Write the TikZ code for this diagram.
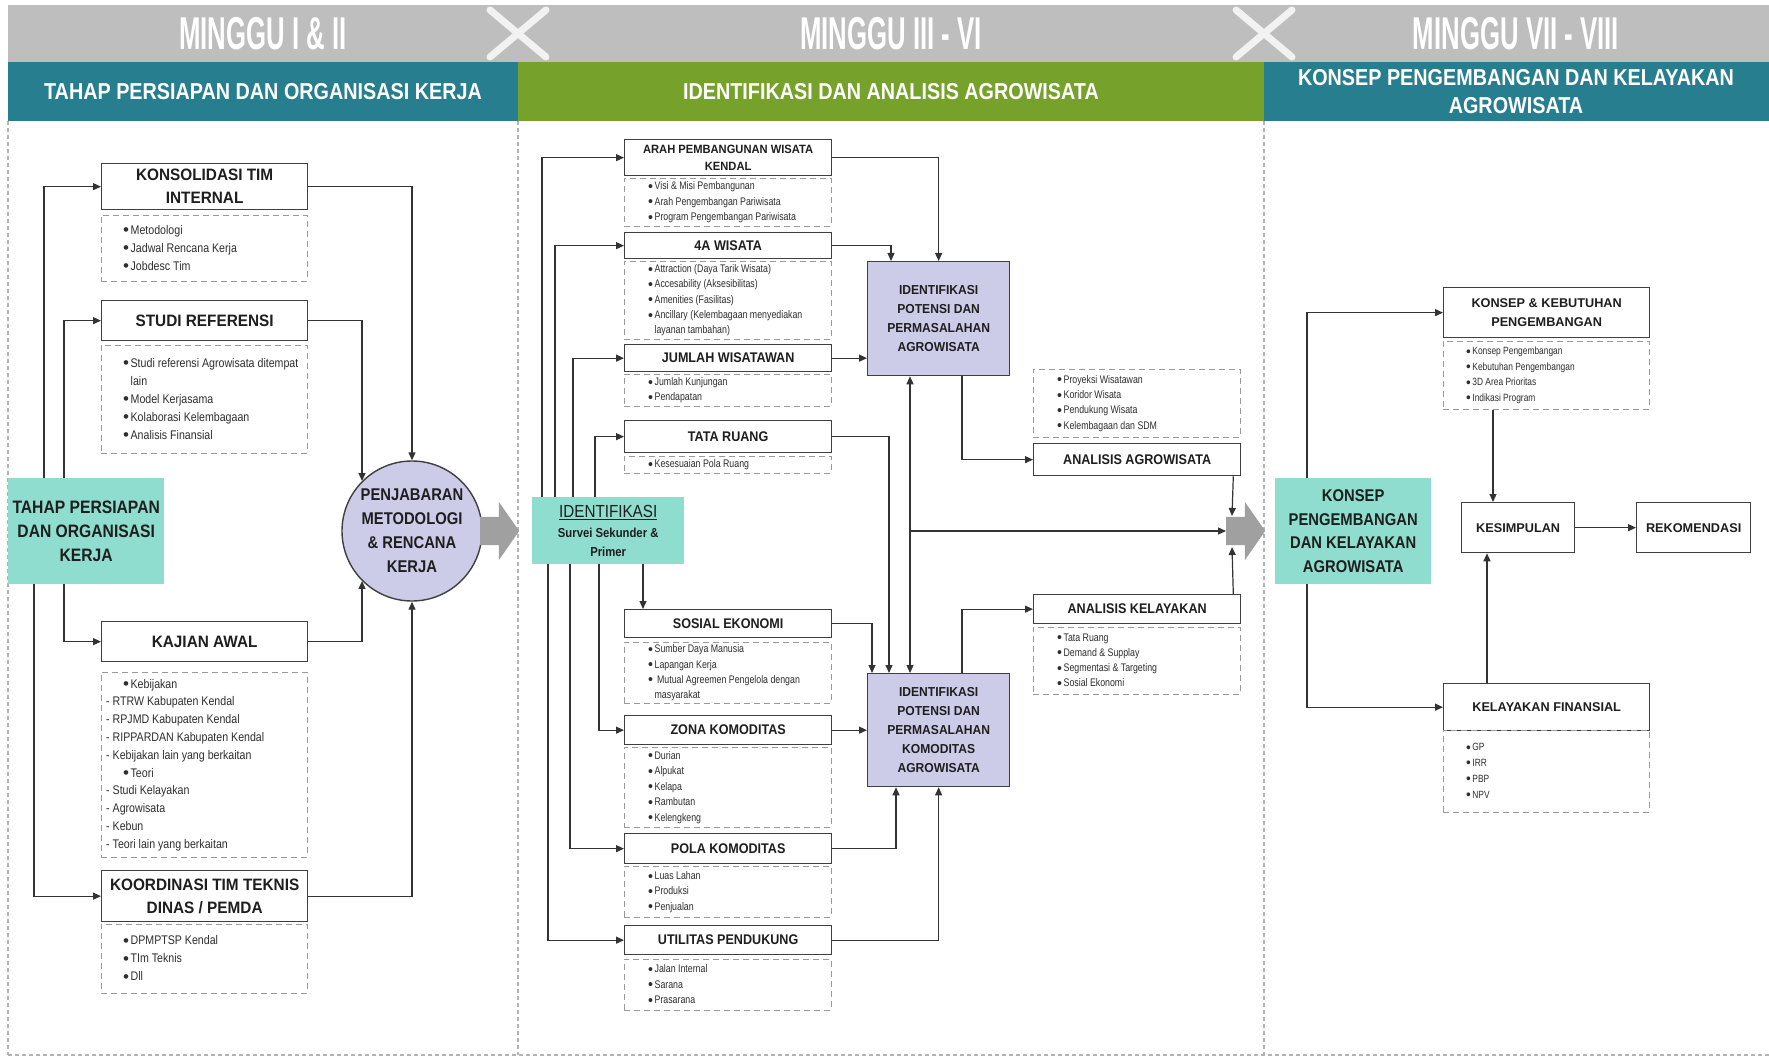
\documentclass[tikz,border=0pt]{standalone}
\usepackage{fontspec}
\setmainfont{Liberation Sans}
\newfontfamily\fHdr[FakeStretch=0.56]{Liberation Sans}
\newfontfamily\fBand[FakeStretch=0.86]{Liberation Sans}
\newfontfamily\fTitA[FakeStretch=0.93]{Liberation Sans}
\newfontfamily\fTitB[FakeStretch=0.9]{Liberation Sans}
\newfontfamily\fTeal[FakeStretch=0.87]{Liberation Sans}
\newfontfamily\fListL[FakeStretch=0.85]{Liberation Sans}
\newfontfamily\fListS[FakeStretch=0.8]{Liberation Sans}
\usetikzlibrary{arrows.meta,shapes.arrows}
\definecolor{hdrgray}{HTML}{BEBEBE}
\definecolor{bandteal}{HTML}{277E8E}
\definecolor{bandgreen}{HTML}{76A12A}
\definecolor{boxteal}{HTML}{8EDDCE}
\definecolor{lav}{HTML}{CCCCE9}
\definecolor{boxline}{HTML}{3F3F3F}
\definecolor{lgray}{HTML}{9A9A9A}
\definecolor{conn}{HTML}{333333}
\definecolor{sepgray}{HTML}{B3B3B3}
\definecolor{garrow}{HTML}{A0A0A0}
\definecolor{xmk}{HTML}{F2F2F2}
\definecolor{txt}{HTML}{1E1E1E}
\definecolor{ltxt}{HTML}{2E2E2E}
\newcommand\bul{\raisebox{-0.14em}{\scalebox{1.6}[1.35]{•}}\hspace{1.5pt}}
\newcommand\ftA{\fTitA\bfseries\fontsize{16.5}{23}\selectfont}
\newcommand\ftM{\fTitB\bfseries\fontsize{14}{17}\selectfont}
\newcommand\ftArah{\fTitA\bfseries\fontsize{12}{17}\selectfont}
\newcommand\ftAgro{\fTitA\bfseries\fontsize{13}{19}\selectfont}
\newcommand\ftR{\bfseries\fontsize{12.7}{19}\selectfont}
\newcommand\ftLL{\fListL\fontsize{12.5}{18}\selectfont}
\newcommand\ftLK{\fListL\fontsize{12.5}{17.8}\selectfont}
\newcommand\ftLM{\fListS\fontsize{11}{15.3}\selectfont}
\newcommand\ftLR{\fListS\fontsize{10.5}{15.5}\selectfont}
\newcommand\bx[8]{\node[#1, minimum width={#5-#3}, minimum height={#6-#4}, font={#7}] (#2) at (#3,#4) {#8};}
\newcommand\lst[8]{\node[lbox, minimum width={#4-#2}, minimum height={#5-#3}] (#1) at (#2,#3) {};
  \node[anchor=west, align=left, inner sep=0pt, text=ltxt, font={#7}] (#1t) at ([xshift=#6pt]#1.west) {#8};}
\begin{document}
\begin{tikzpicture}[x=1pt,y=-1pt,
  tbox/.style={draw=boxline, line width=1.3pt, fill=white, inner sep=0pt, anchor=north west, align=center, text=txt},
  lbox/.style={draw=lgray, line width=0.9pt, dash pattern=on 6pt off 4pt, inner sep=0pt, anchor=north west},
  tealbox/.style={fill=boxteal, draw=none, inner sep=0pt, anchor=north west, align=center, text=txt},
  lavbox/.style={fill=lav, draw=boxline, line width=1.3pt, inner sep=0pt, anchor=north west, align=center, text=txt},
  arr/.style={draw=conn, line width=1.2pt, -{Triangle[length=8pt,width=7pt]}},
  arrb/.style={draw=conn, line width=1.2pt, {Triangle[length=8pt,width=7pt]}-{Triangle[length=8pt,width=7pt]}},
  sep/.style={draw=sepgray, line width=2.2pt, dash pattern=on 4pt off 3pt},
  garr/.style={single arrow, fill=garrow, draw=none, minimum height=39pt, single arrow head extend=15pt, single arrow tip angle=110, inner xsep=0pt, inner ysep=14pt, anchor=tail},
  xmark/.style={draw=xmk, line width=7pt, line cap=round},
  hdr/.style={text=white, font=\fHdr\bfseries\fontsize{46}{46}\selectfont, inner sep=0pt},
  band/.style={text=white, font=\fBand\bfseries\fontsize{23}{28}\selectfont, inner sep=0pt, align=center}
]
\useasboundingbox (0,0) rectangle (1769,1056);
\fill[white] (0,0) rectangle (1769,1056);
% header
\fill[hdrgray] (8,5) rectangle (1769,62);
\fill[bandteal] (8,62) rectangle (518,121);
\fill[bandgreen] (518,62) rectangle (1264,121);
\fill[bandteal] (1264,62) rectangle (1769,121);
\draw[xmark] (490,10) -- (546,57);
\draw[xmark] (546,10) -- (490,57);
\draw[xmark] (1236,10) -- (1292,57);
\draw[xmark] (1292,10) -- (1236,57);
\node[hdr] (h1) at (263,34) {MINGGU I \& II};
\node[hdr] (h2) at (891,34) {MINGGU III - VI};
\node[hdr] (h3) at (1516,34) {MINGGU VII - VIII};
\node[band] (b1) at (263,91.5) {TAHAP PERSIAPAN DAN ORGANISASI KERJA};
\node[band] (b2) at (891,91.5) {IDENTIFIKASI DAN ANALISIS AGROWISATA};
\node[band] (b3) at (1516,91.5) {KONSEP PENGEMBANGAN DAN KELAYAKAN\\AGROWISATA};
% separators
\draw[sep] (8,121) -- (8,1055);
\draw[sep] (518,121) -- (518,1055);
\draw[sep] (1264,121) -- (1264,1055);
\draw[sep] (8,1055) -- (1769,1055);

% ---------- left column ----------
\bx{tbox}{konsol}{101}{163}{307}{209}{\ftA}{KONSOLIDASI TIM\\INTERNAL}
\lst{lkonsol}{101}{215}{307}{281}{22}{\ftLL}{\bul Metodologi\\\bul Jadwal Rencana Kerja\\\bul Jobdesc Tim}
\bx{tbox}{studi}{101}{300}{307}{340}{\ftA}{STUDI REFERENSI}
\lst{lstudi}{101}{345}{307}{453}{22}{\ftLL}{\bul Studi referensi Agrowisata ditempat\\\hphantom{\bul}lain\\\bul Model Kerjasama\\\bul Kolaborasi Kelembagaan\\\bul Analisis Finansial}
\bx{tealbox}{tahap}{8}{478}{164}{584}{\fTeal\bfseries\fontsize{18}{24}\selectfont}{TAHAP PERSIAPAN\\DAN ORGANISASI\\KERJA}
\node[circle, draw=boxline, fill=lav, line width=1.4pt, minimum size=140pt, inner sep=0pt, align=center, text=txt, font=\fTeal\bfseries\fontsize{17}{24}\selectfont] (penj) at (412,531) {PENJABARAN\\METODOLOGI\\\& RENCANA\\KERJA};
\node[garr] (ga1) at (480,531) {};
\bx{tbox}{kajian}{101}{621}{307}{661}{\ftA}{KAJIAN AWAL}
\lst{lkajian}{101}{672}{307}{857}{5}{\ftLK}{\hspace*{17pt}\bul Kebijakan\\- RTRW Kabupaten Kendal\\- RPJMD Kabupaten Kendal\\- RIPPARDAN Kabupaten Kendal\\- Kebijakan lain yang berkaitan\\\hspace*{17pt}\bul Teori\\- Studi Kelayakan\\- Agrowisata\\- Kebun\\- Teori lain yang berkaitan}
\bx{tbox}{koord}{101}{870}{307}{921}{\ftA}{KOORDINASI TIM TEKNIS\\DINAS / PEMDA}
\lst{lkoord}{101}{924}{307}{993}{22}{\ftLL}{\bul DPMPTSP Kendal\\\bul TIm Teknis\\\bul Dll}

\coordinate (t1) at ([xshift=36pt]tahap.north west);
\coordinate (t2) at ([xshift=56pt]tahap.north west);
\coordinate (t3) at ([xshift=26pt]tahap.south west);
\coordinate (t4) at ([xshift=56pt]tahap.south west);
\draw[arr] (t1) |- (konsol.west);
\draw[arr] (t2) |- (studi.west);
\draw[arr] (t3) |- (koord.west);
\draw[arr] (t4) |- (kajian.west);
\draw[arr] (konsol.east) -| (penj.north);
\draw[arr] (studi.east) -| (penj.135);
\draw[arr] (kajian.east) -| (penj.225);
\draw[arr] (koord.east) -| (penj.south);

% ---------- middle column ----------
\bx{tbox}{arah}{624}{139}{831}{175}{\ftArah}{ARAH PEMBANGUNAN WISATA\\KENDAL}
\lst{larah}{624}{178}{831}{226}{24}{\ftLM}{\bul Visi \& Misi Pembangunan\\\bul Arah Pengembangan Pariwisata\\\bul Program Pengembangan Pariwisata}
\bx{tbox}{wis4a}{624}{232}{831}{258}{\ftM}{4A WISATA}
\lst{l4a}{624}{261}{831}{339}{24}{\ftLM}{\bul Attraction (Daya Tarik Wisata)\\\bul Accesability (Aksesibilitas)\\\bul Amenities (Fasilitas)\\\bul Ancillary (Kelembagaan menyediakan\\\hphantom{\bul}layanan tambahan)}
\bx{tbox}{jumlah}{624}{344}{831}{371}{\ftM}{JUMLAH WISATAWAN}
\lst{ljumlah}{624}{374}{831}{406}{24}{\ftLM}{\bul Jumlah Kunjungan\\\bul Pendapatan}
\bx{tbox}{tata}{624}{420}{831}{452}{\ftM}{TATA RUANG}
\lst{ltata}{624}{456}{831}{473}{24}{\ftLM}{\bul Kesesuaian Pola Ruang}
\node[tealbox, minimum width=152pt, minimum height=67pt, font=\fTeal\fontsize{13}{19}\selectfont] (ident) at (532,497) {{\fontsize{17.5}{21}\selectfont\underline{IDENTIFIKASI}}\\[1pt]{\bfseries Survei Sekunder \&}\\{\bfseries Primer}};
\bx{tbox}{sosial}{624}{609}{831}{637}{\ftM}{SOSIAL EKONOMI}
\lst{lsosial}{624}{642}{831}{703}{24}{\ftLM}{\bul Sumber Daya Manusia\\\bul Lapangan Kerja\\\bul\ Mutual Agreemen Pengelola dengan\\\hphantom{\bul}masyarakat}
\bx{tbox}{zona}{624}{715}{831}{744}{\ftM}{ZONA KOMODITAS}
\lst{lzona}{624}{747}{831}{827}{24}{\fListS\fontsize{11}{15.5}\selectfont}{\bul Durian\\\bul Alpukat\\\bul Kelapa\\\bul Rambutan\\\bul Kelengkeng}
\bx{tbox}{pola}{624}{833}{831}{863}{\ftM}{POLA KOMODITAS}
\lst{lpola}{624}{866}{831}{917}{24}{\ftLM}{\bul Luas Lahan\\\bul Produksi\\\bul Penjualan}
\bx{tbox}{util}{624}{925}{831}{954}{\ftM}{UTILITAS PENDUKUNG}
\lst{lutil}{624}{959}{831}{1010}{24}{\ftLM}{\bul Jalan Internal\\\bul Sarana\\\bul Prasarana}
\bx{lavbox}{idagro}{867}{261}{1009}{375}{\ftAgro}{IDENTIFIKASI\\POTENSI DAN\\PERMASALAHAN\\AGROWISATA}
\bx{lavbox}{idkom}{867}{673}{1009}{786}{\ftAgro}{IDENTIFIKASI\\POTENSI DAN\\PERMASALAHAN\\KOMODITAS\\AGROWISATA}
\lst{lanagro}{1033}{369}{1240}{437}{24}{\ftLM}{\bul Proyeksi Wisatawan\\\bul Koridor Wisata\\\bul Pendukung Wisata\\\bul Kelembagaan dan SDM}
\bx{tbox}{anagro}{1033}{443}{1240}{475}{\ftM}{ANALISIS AGROWISATA}
\bx{tbox}{ankel}{1033}{594}{1240}{623}{\ftM}{ANALISIS KELAYAKAN}
\lst{lankel}{1033}{627}{1240}{694}{24}{\ftLM}{\bul Tata Ruang\\\bul Demand \& Supplay\\\bul Segmentasi \& Targeting\\\bul Sosial Ekonomi}
\node[garr] (ga2) at (1226,531) {};

\coordinate (i1) at ([xshift=10pt]ident.north west);
\coordinate (i2) at ([xshift=23pt]ident.north west);
\coordinate (i3) at ([xshift=41pt]ident.north west);
\coordinate (i4) at ([xshift=63pt]ident.north west);
\coordinate (j1) at ([xshift=16pt]ident.south west);
\coordinate (j2) at ([xshift=38pt]ident.south west);
\coordinate (j3) at ([xshift=67pt]ident.south west);
\coordinate (j4) at ([xshift=111pt]ident.south west);
\draw[arr] (i1) |- (arah.west);
\draw[arr] (i2) |- (wis4a.west);
\draw[arr] (i3) |- (jumlah.west);
\draw[arr] (i4) |- (tata.west);
\draw[arr] (j1) |- (util.west);
\draw[arr] (j2) |- (pola.west);
\draw[arr] (j3) |- (zona.west);
\draw[arr] (j4) -- (j4 |- sosial.north);

\coordinate (a1) at ([xshift=24pt]idagro.north west);
\coordinate (a2) at ([xshift=43pt]idagro.south west);
\coordinate (a3) at ([xshift=95pt]idagro.south west);
\coordinate (k0) at ([xshift=5pt]idkom.north west);
\coordinate (k1) at ([xshift=22pt]idkom.north west);
\coordinate (k2) at ([xshift=43pt]idkom.north west);
\coordinate (k3) at ([xshift=95pt]idkom.north west);
\coordinate (k4) at ([xshift=29pt]idkom.south west);
\draw[arr] (arah.east) -| (idagro.north);
\draw[arr] (wis4a.east) -| (a1);
\draw[arr] (jumlah.east) -- (jumlah.east -| idagro.west);
\draw[arr] (tata.east) -| (k1);
\draw[arr] (sosial.east) -| (k0);
\draw[arr] (zona.east) -- (zona.east -| idkom.west);
\draw[arr] (pola.east) -| (k4);
\draw[arr] (util.east) -| (idkom.south);
\draw[arrb] (a2) -- (k2);
\coordinate (jn) at (a2 |- ga2.tail);
\draw[arr] (jn) -- (ga2.tail);
\draw[arr] (a3) |- (anagro.west);
\draw[arr] (k3) |- (ankel.west);
\coordinate (an1) at ([xshift=-8pt]anagro.south east);
\coordinate (an2) at ([xshift=-8pt]ankel.north east);
\coordinate (g2t) at (1232,516);
\coordinate (g2b) at (1232,547);
\draw[arr] (an1) -- (g2t);
\draw[arr] (an2) -- (g2b);

% ---------- right column ----------
\bx{tealbox}{konsep}{1275}{478}{1431}{584}{\fTeal\bfseries\fontsize{17}{23.5}\selectfont}{KONSEP\\PENGEMBANGAN\\DAN KELAYAKAN\\AGROWISATA}
\bx{tbox}{konkeb}{1443}{287}{1649}{337}{\ftR}{KONSEP \& KEBUTUHAN\\PENGEMBANGAN}
\lst{lkonkeb}{1443}{341}{1649}{409}{23}{\ftLR}{\bul Konsep Pengembangan\\\bul Kebutuhan Pengembangan\\\bul 3D Area Prioritas\\\bul Indikasi Program}
\bx{tbox}{kesim}{1461}{502}{1574}{552}{\ftR}{KESIMPULAN}
\bx{tbox}{rekom}{1636}{502}{1750}{552}{\ftR}{REKOMENDASI}
\bx{tbox}{kelfin}{1443}{683}{1649}{730}{\ftR}{KELAYAKAN FINANSIAL}
\lst{lkelfin}{1443}{730}{1649}{812}{23}{\fListS\fontsize{10.5}{15.8}\selectfont}{\bul GP\\\bul IRR\\\bul PBP\\\bul NPV}

\coordinate (c1) at ([xshift=32pt]konsep.north west);
\coordinate (c2) at ([xshift=32pt]konsep.south west);
\coordinate (c3) at ([xshift=50pt]lkonkeb.south west);
\coordinate (c4) at ([xshift=44pt]kelfin.north west);
\draw[arr] (c1) |- (konkeb.west);
\draw[arr] (c2) |- (kelfin.west);
\draw[arr] (c3) -- (c3 |- kesim.north);
\draw[arr] (c4) -- (c4 |- kesim.south);
\draw[arr] (kesim.east) -- (rekom.west);
\end{tikzpicture}
\end{document}
